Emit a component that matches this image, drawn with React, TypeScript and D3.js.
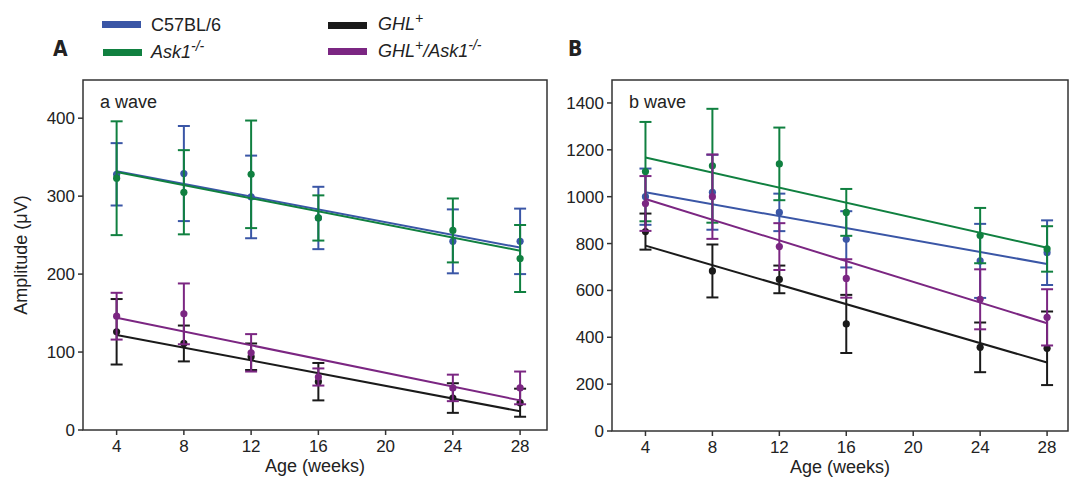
import React from 'react'
import * as d3 from 'd3'

const weeks = [4, 8, 12, 16, 24, 28]
const xTicks = [4, 8, 12, 16, 20, 24, 28]
const yTicksA = [0, 100, 200, 300, 400]
const yTicksB = [0, 200, 400, 600, 800, 1000, 1200, 1400]

const groups = ['C57BL/6', 'Ask1', 'GHL', 'GHLAsk1']
const colors = ['#3a56a6', '#108040', '#1a1a1a', '#7b2682']

// a wave (mean, sd) per group
const aMean = [
  [328, 329, 299, 272, 242, 242],
  [323, 305, 328, 272, 256, 220],
  [126, 111, 94, 62, 41, 35],
  [146, 149, 99, 68, 54, 54],
]
const aErr = [
  [40, 61, 53, 40, 41, 42],
  [73, 54, 69, 29, 41, 43],
  [42, 23, 17, 24, 19, 18],
  [30, 39, 24, 11, 17, 21],
]
const aFit = [
  [332, 234],
  [331, 230],
  [122, 24],
  [144, 38],
]

// b wave
const bMean = [
  [1000, 1019, 933, 818, 726, 761],
  [1107, 1132, 1140, 933, 834, 777],
  [851, 683, 647, 457, 357, 353],
  [971, 1000, 787, 651, 562, 485],
]
const bErr = [
  [120, 160, 80, 120, 158, 138],
  [212, 243, 155, 100, 118, 97],
  [77, 113, 59, 124, 106, 157],
  [117, 180, 100, 82, 128, 120],
]
const bFit = [
  [1019, 713],
  [1167, 782],
  [791, 292],
  [990, 460],
]

const font = 'Liberation Sans, Arial, sans-serif'

type PanelProps = {
  left: number
  right: number
  top: number
  bottom: number
  xMax: number
  yMax: number
  yTicks: number[]
  means: number[][]
  errs: number[][]
  fits: number[][]
  title: string
}

const Panel = ({ left, right, top, bottom, xMax, yMax, yTicks, means, errs, fits, title }: PanelProps) => {
  const x = d3.scaleLinear().domain([2, xMax]).range([left, right])
  const y = d3.scaleLinear().domain([0, yMax]).range([bottom, top])
  const line = d3.line<[number, number]>().x(d => x(d[0])).y(d => y(d[1]))

  return (
    <g>
      {means.map((m, gi) => (
        <g key={gi} stroke={colors[gi]} fill={colors[gi]}>
          {m.map((v, i) => {
            const cx = x(weeks[i])
            const e = errs[gi][i]
            return (
              <g key={i}>
                <line x1={cx} x2={cx} y1={y(v + e)} y2={y(v - e)} strokeWidth={2} />
                <line x1={cx - 6} x2={cx + 6} y1={y(v + e)} y2={y(v + e)} strokeWidth={2} />
                <line x1={cx - 6} x2={cx + 6} y1={y(v - e)} y2={y(v - e)} strokeWidth={2} />
                <circle cx={cx} cy={y(v)} r={3.6} stroke="none" />
              </g>
            )
          })}
          <path
            d={line([[4, fits[gi][0]], [28, fits[gi][1]]]) || ''}
            fill="none"
            strokeWidth={2}
          />
        </g>
      ))}
      <rect x={left} y={top} width={right - left} height={bottom - top} fill="none" stroke="#333" strokeWidth={1.5} />
      {yTicks.map(t => (
        <g key={t}>
          <line x1={left - 5} x2={left} y1={y(t)} y2={y(t)} stroke="#333" strokeWidth={1.5} />
          <text x={left - 8} y={y(t)} dy="0.35em" textAnchor="end" fontSize={17} fontFamily={font} fill="#222">
            {t}
          </text>
        </g>
      ))}
      {xTicks.map(t => (
        <g key={t}>
          <line x1={x(t)} x2={x(t)} y1={bottom} y2={bottom + 5} stroke="#333" strokeWidth={1.5} />
          <text x={x(t)} y={bottom + 22} textAnchor="middle" fontSize={17} fontFamily={font} fill="#222">
            {t}
          </text>
        </g>
      ))}
      <text x={left + 17} y={top + 28} fontSize={18} fontFamily={font} fill="#222">
        {title}
      </text>
      <text x={(left + right) / 2} y={bottom + 42} textAnchor="middle" fontSize={18} fontFamily={font} fill="#222">
        Age (weeks)
      </text>
    </g>
  )
}

const Sup = ({ children }: { children: React.ReactNode }) => (
  <tspan dy={-7} fontSize={14}>{children}</tspan>
)

const App = () => {
  const legendText = { fontSize: 18, fontFamily: font, fill: '#222' }
  return (
    <svg width={1070} height={482} style={{ position: 'absolute', left: 0, top: 0, background: '#fff' }}>
      {/* legend */}
      <rect x={102} y={21} width={39} height={7} fill={colors[0]} />
      <text x={151} y={31} {...legendText}>C57BL/6</text>
      <rect x={103} y={49} width={39} height={7} fill={colors[1]} />
      <text x={151} y={58} {...legendText} fontStyle="italic">
        Ask1<Sup>-/-</Sup>
      </text>
      <rect x={328} y={22} width={39} height={7} fill={colors[2]} />
      <text x={378} y={30} {...legendText} fontStyle="italic">
        GHL<Sup>+</Sup>
      </text>
      <rect x={328} y={48} width={39} height={7} fill={colors[3]} />
      <text x={378} y={57} {...legendText} fontStyle="italic">
        GHL<Sup>+</Sup>
        <tspan dy={7}>/Ask1</tspan>
        <Sup>-/-</Sup>
      </text>

      <text x={53} y={56} fontSize={21} fontWeight="bold" fontFamily="DejaVu Sans Condensed, Liberation Sans Narrow, sans-serif" fill="#222">A</text>
      <text x={568} y={56} fontSize={21} fontWeight="bold" fontFamily="DejaVu Sans Condensed, Liberation Sans Narrow, sans-serif" fill="#222">B</text>

      <text
        transform="translate(27,255) rotate(-90)"
        textAnchor="middle"
        fontSize={18}
        fontFamily={font}
        fill="#222"
      >
        Amplitude (μV)
      </text>

      <Panel left={83} right={547} top={80} bottom={430} xMax={29.6} yMax={449} yTicks={yTicksA}
        means={aMean} errs={aErr} fits={aFit} title="a wave" />
      <Panel left={612} right={1068} top={80} bottom={431} xMax={29.25} yMax={1498} yTicks={yTicksB}
        means={bMean} errs={bErr} fits={bFit} title="b wave" />
    </svg>
  )
}

export default App
